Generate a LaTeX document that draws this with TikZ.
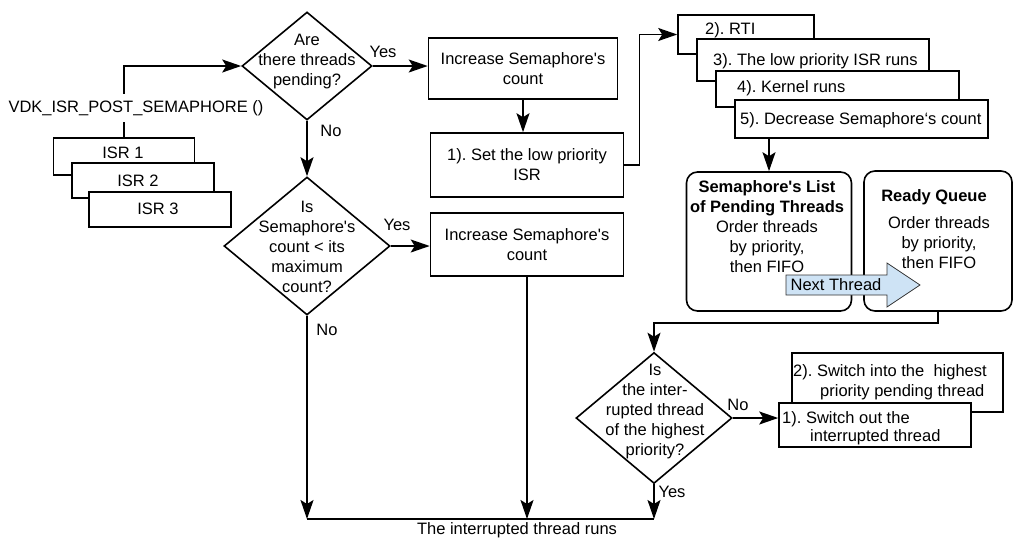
\documentclass[tikz,border=0pt]{standalone}
\usepackage{fontspec}
\setmainfont{Liberation Sans}
\usetikzlibrary{shapes.geometric,arrows.meta,calc}
\newcommand\diagfont{\fontsize{16.5}{20}\selectfont}
\definecolor{arrowblue}{RGB}{206,227,245}
\frenchspacing
\tikzset{
  >={Stealth[length=19pt,width=13pt,inset=4pt]},
  box/.style     ={draw, line width=1.6pt, fill=white, inner sep=0pt, align=center, font=\diagfont},
  decision/.style={draw, diamond, line width=1.6pt, inner sep=0pt},
  txt/.style     ={align=center, inner sep=0pt, font=\diagfont},
  lefttxt/.style ={anchor=base west, inner sep=0pt, font=\diagfont},
  flow/.style    ={line width=1.6pt, ->},
  wire/.style    ={line width=1.6pt},
}

\begin{document}
\begin{tikzpicture}[x=1pt, y=-1pt]
\useasboundingbox (0,0) rectangle (1014,539);

%--- ISR stack and the service call ---
\node[box, minimum width=141pt, minimum height=37pt] (isrA) at (124,156.5) {};
\node[txt] (isrAtxt) at (123,153) {ISR 1};
\node[box, minimum width=142pt, minimum height=35pt] (isrB) at (143,180.5) {};
\node[txt] (isrBtxt) at (138,181) {ISR 2};
\node[box, minimum width=142pt, minimum height=35pt] (isrC) at (160,209.5) {};
\node[txt] (isrCtxt) at (158,209) {ISR 3};
\node[txt, inner ysep=6.5pt] (vdk) at (136,108) {VDK\_ISR\_POST\_SEMAPHORE ()};

%--- Decisions ---
\node[decision, minimum width=130pt, minimum height=108pt] (dPend) at (307,66) {};
\node[txt] (dPendTxt) at (307,62) {Are\\there threads\\pending?};
\node[decision, minimum width=166pt, minimum height=138pt] (dCount) at (307,246) {};
\node[txt] (dCountTxt) at (307,247) {Is\\Semaphore\textquotesingle s\\count < its\\maximum\\count?};
\node[decision, minimum width=156pt, minimum height=131pt] (dHigh) at (654,418) {};
\node[txt] (dHighTxt) at (655,412) {Is\\the inter-\\rupted thread\\of the highest\\priority?};

%--- Plain boxes ---
\node[box, minimum width=189pt, minimum height=61pt] (incA) at (523,68.5) {Increase Semaphore\textquotesingle s\\count};
\node[box, minimum width=193pt, minimum height=64pt] (setLow) at (527,165) {1). Set the low priority\\ISR};
\node[box, minimum width=193pt, minimum height=63pt] (incB) at (527,244.5) {Increase Semaphore\textquotesingle s\\count};

%--- Steps after the low priority ISR ---
\node[box, minimum width=136pt, minimum height=39pt] (rti) at (746,34.5) {};
\node[lefttxt] (rtiTxt) at (705,34) {2). RTI};
\node[box, minimum width=232pt, minimum height=42pt] (lowRun) at (813,60) {};
\node[lefttxt] (lowRunTxt) at (713,65) {3). The low priority ISR runs};
\node[box, minimum width=243pt, minimum height=36pt] (kernel) at (837.5,89) {};
\node[lefttxt] (kernelTxt) at (737,92) {4). Kernel runs};
\node[box, minimum width=253pt, minimum height=38pt] (decr) at (861.5,119) {};
\node[lefttxt] (decrTxt) at (740,124) {5). Decrease Semaphore`s count};

%--- Thread lists ---
\node[box, rounded corners=11pt, minimum width=165pt, minimum height=139pt] (semList) at (769,241.5) {};
\node[txt] (semListTxt) at (767,227) {\bfseries Semaphore\textquotesingle s List\\\bfseries of Pending Threads\\Order threads\\by priority,\\then FIFO};
\node[box, rounded corners=11pt, minimum width=148pt, minimum height=140pt] (ready) at (938,241) {};
\node[txt] (readyHead) at (934,197) {\bfseries Ready Queue};
\node[txt] (readyTxt) at (939,243) {Order threads\\by priority,\\then FIFO};

% next thread moves over to the ready queue
\draw[fill=arrowblue, draw=black!80, line width=0.8pt]
  (786,275) -- (887,275) -- (887,263) -- (920,285) -- (887,307) -- (887,295) -- (786,295) -- cycle;
\node[txt] (nextTxt) at (836,285) {Next Thread};

%--- Context switch ---
\node[box, minimum width=211pt, minimum height=59pt] (swIn) at (897.5,382.5) {};
\node[lefttxt] (swInA) at (793,376) {2). Switch into the\ \ highest};
\node[lefttxt] (swInB) at (820,396) {priority pending thread};
\node[box, minimum width=192pt, minimum height=44pt] (swOut) at (875,425) {};
\node[lefttxt] (swOutA) at (782,423) {1). Switch out the};
\node[lefttxt] (swOutB) at (810,441) {interrupted thread};

%--- Connectors ---
\draw[wire] (isrA.north) -- (isrA.north |- vdk.south);
\draw[flow] (isrA.north |- vdk.north) |- (dPend.west);
\draw[flow] (dPend.east) -- (dPend.east -| incA.west);
\draw[flow] (incA.south) -- (incA.south |- setLow.north);
\draw[flow] (setLow.east) -- ++(15,0) |- (rti.west);
\draw[flow] (semList.north |- decr.south) -- (semList.north);
\draw[flow] (dPend.south) -- (dCount.north);
\draw[flow] (dCount.east) -- (dCount.east -| incB.west);
\draw[flow] (ready.south) -- ++(0,11) -| (dHigh.north);
\draw[flow] (dHigh.east) -- (dHigh.east -| swOut.west);

% everything ends in the interrupted thread
\coordinate (runL) at (307,519);
\coordinate (runR) at (654,519);
\draw[flow] (dCount.south) -- (runL);
\draw[flow] (incB.south) -- (incB.south |- runL);
\draw[flow] (dHigh.south) -- (runR);
\draw[wire] (runL) -- (runR);
\node[txt] (runsTxt) at (517,530) {The interrupted thread runs};

%--- Yes / No labels ---
\node[txt] (yesA) at (383,52) {Yes};
\node[txt] (noA) at (331,131) {No};
\node[txt] (yesB) at (397,225) {Yes};
\node[txt] (noB) at (327,330) {No};
\node[txt] (noC) at (738,405) {No};
\node[txt] (yesC) at (672,492) {Yes};

\end{tikzpicture}
\end{document}
